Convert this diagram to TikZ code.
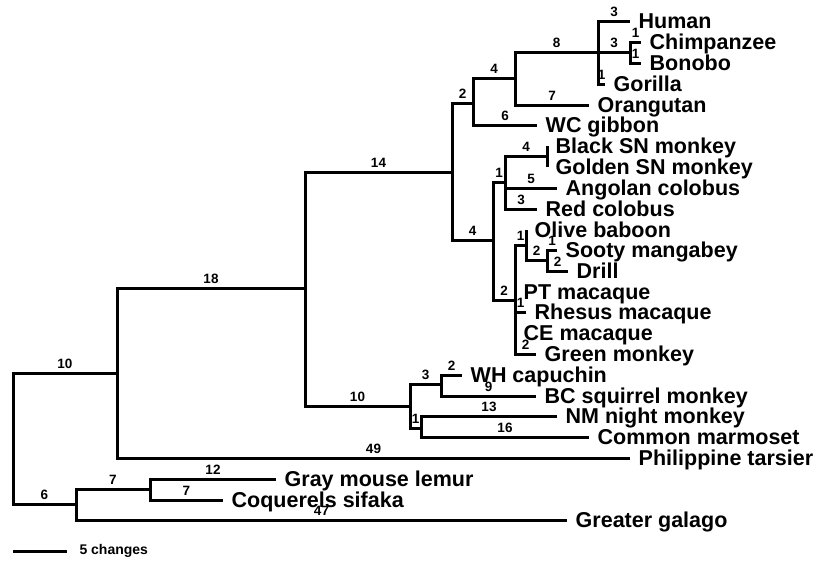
\documentclass[tikz,border=0pt]{standalone}
\usepackage{fontspec}
\setmainfont{Liberation Sans}
\usepackage{tikz}
\usetikzlibrary{positioning,calc}
\tikzset{
  branch/.style={line width=3pt, line join=miter},
  leaf/.style={anchor=west, inner xsep=8.5pt, inner ysep=0pt,
               text height=15pt, text depth=0pt,
               font=\fontsize{21.5}{22}\selectfont\bfseries},
  blen/.style={pos=0.75, anchor=base, yshift=5pt, inner sep=0pt,
               font=\fontsize{13.5}{14}\selectfont\bfseries},
  sbar/.style={anchor=west, inner xsep=11pt, font=\fontsize{14}{15}\selectfont\bfseries},
}
\begin{document}
\begin{tikzpicture}[x=1pt, y=-1pt]
  \useasboundingbox (0,0) rectangle (819,560);
  % internal nodes (x = depth, y = height of the stem)
  \foreach \n/\x/\y in {root/13/439, hap/117/373, strep/76/504, anth/305/288,
      cat/452/172, plat/410/406, hominoid/473/103, cercopith/493/240,
      hominid/515/78, hominin/598/52, pan/630/52, colob/505/182, snm/547/156,
      cercopin/515/300, papio/526/245, sootydrill/547/260,
      cebid/441/384, nmcm/421/428, lemur/150/489}
    \coordinate (\n) at (\x,\y);
  % tips
  \foreach \n/\x/\y/\txt in {
      human/630/21/Human, chimp/641/42/Chimpanzee, bonobo/641/63/Bonobo,
      gorilla/605/84/Gorilla, orang/589/105/Orangutan, gibbon/537/125/WC gibbon,
      blacksn/547/146/Black SN monkey, goldensn/547/167/Golden SN monkey,
      angolan/557/188/Angolan colobus, redcol/537/209/Red colobus,
      olive/526/230/Olive baboon, sooty/557/250/Sooty mangabey, drill/568/271/Drill,
      ptmac/515/292/PT macaque, rhesus/526/312/Rhesus macaque,
      cemac/515/333/CE macaque, green/536/354/Green monkey,
      whcap/462/375/WH capuchin, bcsq/536/396/BC squirrel monkey,
      nmnight/557/416/NM night monkey, marmoset/589/437/Common marmoset,
      tarsier/630/458/Philippine tarsier, mouselemur/276/479/Gray mouse lemur,
      sifaka/223/500/Coquerels sifaka, galago/567/520/Greater galago}
    \node[leaf] (\n) at (\x,\y) {\txt};
  % branches with number of changes
  \foreach \p/\c/\len in {
      root/hap/10, root/strep/6, hap/anth/18, hap/tarsier/49,
      anth/cat/14, anth/plat/10, cat/hominoid/2, cat/cercopith/4,
      hominoid/hominid/4, hominoid/gibbon/6, hominid/hominin/8, hominid/orang/7,
      hominin/human/3, hominin/pan/3, hominin/gorilla/1, pan/chimp/1, pan/bonobo/1,
      cercopith/colob/1, cercopith/cercopin/2,
      colob/snm/4, colob/angolan/5, colob/redcol/3, snm/blacksn/{}, snm/goldensn/{},
      cercopin/papio/1, cercopin/ptmac/{}, cercopin/rhesus/1, cercopin/cemac/{},
      cercopin/green/2, papio/olive/{}, papio/sootydrill/2,
      sootydrill/sooty/1, sootydrill/drill/2,
      plat/cebid/3, plat/nmcm/1, cebid/whcap/2, cebid/bcsq/9,
      nmcm/nmnight/13, nmcm/marmoset/16,
      strep/lemur/7, strep/galago/47, lemur/mouselemur/12, lemur/sifaka/7}
    \draw[branch] (\p) |- node[blen] {\len} (\c);
  % scale bar
  \coordinate (sb1) at (13,551);
  \coordinate (sb2) at (67,551);
  \draw[branch] (sb1) -- (sb2) node[sbar] (sbtxt) {5 changes};
\end{tikzpicture}
\end{document}
